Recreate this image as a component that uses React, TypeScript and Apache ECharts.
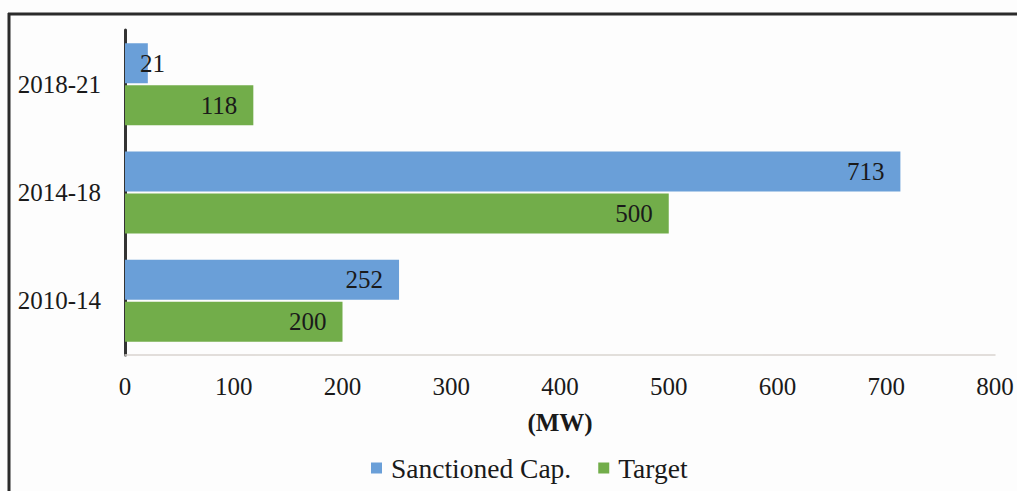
import React, { useEffect, useRef } from "react";
import * as echarts from "echarts";

const categories = ["2010-14", "2014-18", "2018-21"];
const sanctioned = [252, 713, 21];
const target = [200, 500, 118];
const xTicks = [0, 100, 200, 300, 400, 500, 600, 700, 800];
const seriesNames = ["Sanctioned Cap.", "Target"];

const SERIF = "Liberation Serif";

export default function App() {
  const ref = useRef<HTMLDivElement>(null);
  useEffect(() => {
    if (!ref.current) return;
    const chart = echarts.init(ref.current, null, { renderer: "svg" });
    const labelFor = (v: number) => (v < 60 ? { position: "insideLeft", distance: 15 } : { position: "insideRight", distance: 16 });
    const mk = (vals: number[]) =>
      vals.map((v) => ({ value: v, label: labelFor(v) }));
    chart.setOption({
      animation: false,
      backgroundColor: "#fdfdfd",
      textStyle: { fontFamily: SERIF },
      grid: { left: 125, right: 22, top: 30, bottom: 136, containLabel: false },
      legend: {
        data: seriesNames,
        left: 366,
        top: 449,
        itemWidth: 11,
        itemHeight: 11,
        itemGap: 27,
        icon: "rect",
        textStyle: { fontFamily: SERIF, fontSize: 27.5, color: "#1a1a1a", padding: [0, 0, 0, 4] },
      },
      xAxis: {
        type: "value",
        min: xTicks[0],
        max: xTicks[xTicks.length - 1],
        interval: 100,
        name: "(MW)",
        nameLocation: "middle",
        nameGap: 55,
        nameTextStyle: { fontFamily: SERIF, fontSize: 25, fontWeight: "bold", color: "#1a1a1a" },
        axisLine: { show: true, lineStyle: { color: "#d9d4cf", width: 1.5 } },
        axisTick: { show: false },
        splitLine: { show: false },
        axisLabel: { fontFamily: SERIF, fontSize: 25, color: "#1a1a1a", margin: 19 },
      },
      yAxis: {
        type: "category",
        data: categories,
        axisLine: { show: true, lineStyle: { color: "#333333", width: 3 } },
        axisTick: { show: false },
        axisLabel: { fontFamily: SERIF, fontSize: 25, color: "#1a1a1a", margin: 24 },
      },
      series: [
        {
          name: seriesNames[0],
          type: "bar",
          data: mk(sanctioned),
          barWidth: 40,
          barGap: "5%",
          itemStyle: { color: "#6a9fd8" },
          label: { show: true, fontFamily: SERIF, fontSize: 25, color: "#1a1a1a" },
        },
        {
          name: seriesNames[1],
          type: "bar",
          data: mk(target),
          barWidth: 40,
          barGap: "5%",
          itemStyle: { color: "#72ad4a" },
          label: { show: true, fontFamily: SERIF, fontSize: 25, color: "#1a1a1a" },
        },
      ],
      graphic: [
        { type: "line", shape: { x1: 8, y1: 14, x2: 1017, y2: 14 }, style: { stroke: "#2b2b2b", lineWidth: 3 } },
        { type: "line", shape: { x1: 9, y1: 13, x2: 9, y2: 491 }, style: { stroke: "#2b2b2b", lineWidth: 3 } },
      ],
    });
    return () => chart.dispose();
  }, []);
  return <div ref={ref} style={{ position: "fixed", left: 0, top: 0, width: 1017, height: 491 }} />;
}
